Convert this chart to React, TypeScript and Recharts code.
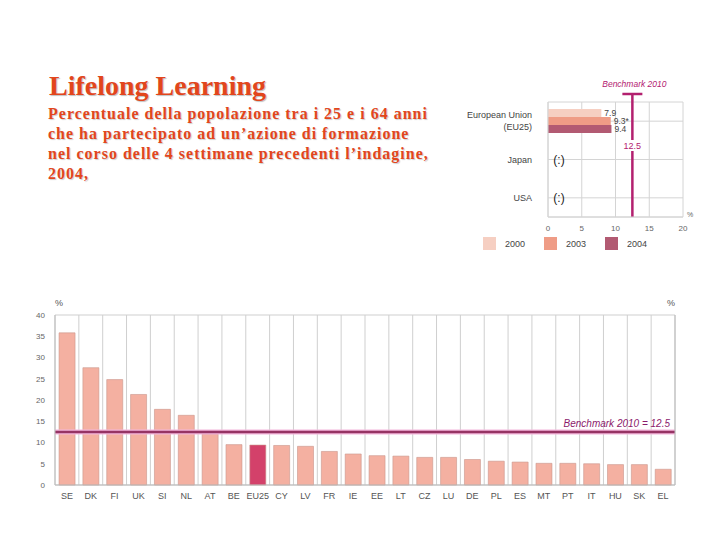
import {
  Bar,
  BarChart,
  CartesianGrid,
  Cell,
  LabelList,
  Legend,
  ReferenceLine,
  XAxis,
  YAxis,
} from "recharts";

// main chart: participation in lifelong learning, 2004 (%)
const countries = [
  "SE", "DK", "FI", "UK", "SI", "NL", "AT", "BE", "EU25", "CY", "LV", "FR", "IE",
  "EE", "LT", "CZ", "LU", "DE", "PL", "ES", "MT", "PT", "IT", "HU", "SK", "EL",
];
const share2004 = [
  35.8, 27.6, 24.8, 21.3, 17.8, 16.4, 12.0, 9.5, 9.4, 9.3, 9.1, 7.9, 7.3,
  6.9, 6.8, 6.5, 6.5, 6.0, 5.6, 5.4, 5.1, 5.1, 5.0, 4.8, 4.8, 3.7,
];
const mainTicks = [0, 5, 10, 15, 20, 25, 30, 35, 40];
const benchmark = 12.5;

// inset: EU25 vs Japan / USA
const regions = ["European Union (EU25)", "Japan", "USA"];
const regionNotes = ["", "(:)", "(:)"];
const eu2000 = [7.9, null, null];
const eu2003 = [9.3, null, null];
const eu2004 = [9.4, null, null];
const insetTicks = [0, 5, 10, 15, 20];

const mainData = countries.map((c, i) => ({ country: c, value: share2004[i] }));
const insetData = regions.map((r, i) => ({
  region: r,
  y2000: eu2000[i],
  y2003: eu2003[i],
  y2004: eu2004[i],
}));

const insetSeries = [
  { key: "y2000", name: "2000", color: "#f6cfc2", suffix: "" },
  { key: "y2003", name: "2003", color: "#ef9c86", suffix: "*" },
  { key: "y2004", name: "2004", color: "#b25a72", suffix: "" },
];

const sans = "'Liberation Sans', Arial, sans-serif";
const serif = "'Liberation Serif', 'Times New Roman', serif";
const titleColor = "#e2461c";

const RegionTick = ({ x, y, payload, index }: any) => {
  const label: string = payload.value;
  const parts = label.includes(" (") ? label.split(" (") : [label];
  const note = regionNotes[index];
  return (
    <g>
      {parts.length > 1 ? (
        <text x={x} y={y} textAnchor="end" fontSize={9} fill="#444" fontFamily={sans}>
          <tspan x={x} dy={-3}>{parts[0]}</tspan>
          <tspan x={x} dy={12}>{"(" + parts[1]}</tspan>
        </text>
      ) : (
        <text x={x} y={y} dy={3} textAnchor="end" fontSize={9} fill="#444" fontFamily={sans}>
          {label}
        </text>
      )}
      {note && (
        <text x={x + 27} y={y} dy={4} textAnchor="middle" fontSize={12} fill="#222" fontFamily={sans}>
          {note}
        </text>
      )}
    </g>
  );
};

const BenchmarkShape = (props: any) => {
  const { x1, y1, x2, y2 } = props;
  const top = Math.min(y1, y2);
  const bottom = Math.max(y1, y2);
  return (
    <g>
      <line x1={x1} y1={top - 8} x2={x2} y2={bottom} stroke="#b3206f" strokeWidth={2.5} />
      <line x1={x1 - 10} y1={top - 8} x2={x1 + 10} y2={top - 8} stroke="#b3206f" strokeWidth={2.5} />
    </g>
  );
};

const InsetBenchLabel = ({ viewBox }: any) => {
  const { x, y } = viewBox;
  return (
    <g fontFamily={sans}>
      <text x={x + 2} y={y - 15} textAnchor="middle" fontSize={8.5} fontStyle="italic" fill="#b3206f">
        Benchmark 2010
      </text>
      <rect x={x - 10} y={y + 38} width={20} height={11} fill="#fff" />
      <text x={x} y={y + 47} textAnchor="middle" fontSize={9} fill="#b3206f">
        12.5
      </text>
    </g>
  );
};

const InsetLegend = ({ payload }: any) => (
  <div style={{ display: "flex", fontFamily: sans, fontSize: 9, color: "#444" }}>
    {(payload || []).map((p: any) => (
      <div key={p.value} style={{ display: "flex", alignItems: "center", width: 61 }}>
        <span style={{ width: 13, height: 13, background: p.color, display: "inline-block", marginRight: 9 }} />
        {p.value}
      </div>
    ))}
  </div>
);

const PercentLabel = (side: "left" | "right") => ({ viewBox }: any) => {
  const { x, y, width } = viewBox;
  const tx = side === "left" ? x + width + 4 : x - 4;
  return (
    <text x={tx} y={y - 9} textAnchor="middle" fontSize={9} fill="#555" fontFamily={sans}>
      %
    </text>
  );
};

export default function App() {
  const n = countries.length;
  const bandLines = ({ offset }: any) =>
    Array.from({ length: n + 1 }, (_, i) => offset.left + (i * offset.width) / n);

  return (
    <div style={{ position: "absolute", left: 0, top: 0, width: 720, height: 540, background: "#fff" }}>
      <div
        style={{
          position: "absolute",
          left: 49,
          top: 72,
          fontFamily: serif,
          fontWeight: "bold",
          fontSize: 28,
          lineHeight: "28px",
          color: titleColor,
          textShadow: "1px 1px 1px rgba(0,0,0,0.25)",
          whiteSpace: "nowrap",
        }}
      >
        Lifelong Learning
      </div>
      <div
        style={{
          position: "absolute",
          left: 48,
          top: 104,
          width: 420,
          fontFamily: serif,
          fontWeight: "bold",
          fontSize: 16,
          letterSpacing: 1,
          lineHeight: "20px",
          color: titleColor,
          textShadow: "1px 1px 1px rgba(0,0,0,0.2)",
          whiteSpace: "nowrap",
        }}
      >
        Percentuale della popolazione tra i 25 e i 64 anni
        <br />
        che ha partecipato ad un’azione di formazione
        <br />
        nel corso delle 4 settimane precedenti l’indagine,
        <br />
        2004,
      </div>

      <div style={{ position: "absolute", left: 450, top: 70 }}>
        <BarChart
          width={260}
          height={195}
          data={insetData}
          layout="vertical"
          margin={{ top: 32, right: 27, bottom: 6, left: 0 }}
          barCategoryGap="18%"
          barGap={0}
        >
          <CartesianGrid stroke="#d4d4d4" />
          <XAxis
            type="number"
            domain={[0, 20]}
            ticks={insetTicks}
            tickLine={false}
            axisLine={{ stroke: "#d4d4d4" }}
            tick={{ fontSize: 8, fill: "#666", fontFamily: sans }}
            height={20}
          />
          <YAxis
            type="category"
            dataKey="region"
            width={98}
            tickLine={false}
            axisLine={{ stroke: "#d4d4d4" }}
            tickMargin={10}
            tick={<RegionTick />}
          />
          {insetSeries.map((s) => (
            <Bar key={s.key} dataKey={s.key} name={s.name} fill={s.color} isAnimationActive={false}>
              <LabelList
                dataKey={s.key}
                position="right"
                offset={3}
                fontSize={8.5}
                fill="#444"
                fontFamily={sans}
                formatter={(v: any) => (v == null ? "" : v + s.suffix)}
              />
            </Bar>
          ))}
          <ReferenceLine x={benchmark} shape={<BenchmarkShape />} label={<InsetBenchLabel />} />
          <Legend
            verticalAlign="bottom"
            height={22}
            content={<InsetLegend />}
            wrapperStyle={{ left: 33, width: 200 }}
          />
        </BarChart>
        <div style={{ position: "absolute", left: 237, top: 141, fontSize: 7, color: "#666", fontFamily: sans }}>%</div>
      </div>

      <div style={{ position: "absolute", left: 0, top: 290 }}>
        <BarChart
          width={720}
          height={215}
          data={mainData}
          margin={{ top: 25, right: 0, bottom: 0, left: 0 }}
          barCategoryGap="17%"
        >
          <CartesianGrid stroke="#cfcfcf" verticalCoordinatesGenerator={bandLines} />
          <XAxis
            dataKey="country"
            interval={0}
            tickLine={false}
            axisLine={{ stroke: "#bbb" }}
            tick={{ fontSize: 9, fill: "#555", fontFamily: sans }}
            height={20}
          />
          <YAxis
            yAxisId="left"
            domain={[0, 40]}
            ticks={mainTicks}
            width={55}
            tickLine={false}
            tickMargin={4}
            axisLine={{ stroke: "#bbb" }}
            tick={{ fontSize: 8, fill: "#666", fontFamily: sans }}
            label={PercentLabel("left")}
          />
          <YAxis
            yAxisId="right"
            orientation="right"
            domain={[0, 40]}
            ticks={mainTicks}
            width={45}
            tickLine={false}
            tickMargin={5}
            axisLine={{ stroke: "#bbb" }}
            tick={{ fontSize: 8, fill: "#666", fontFamily: sans }}
            label={PercentLabel("right")}
          />
          <Bar yAxisId="left" dataKey="value" stroke="#c9958c" strokeWidth={0.6} isAnimationActive={false}>
            {mainData.map((d) => (
              <Cell key={d.country} fill={d.country === "EU25" ? "#d3416a" : "#f4b0a1"} />
            ))}
          </Bar>
          <ReferenceLine yAxisId="left" y={benchmark} stroke="#f4b6dc" strokeWidth={5} />
          <ReferenceLine
            yAxisId="left"
            y={benchmark}
            stroke="#963464"
            strokeWidth={2.5}
            label={{
              value: "Benchmark 2010 = 12.5",
              position: "insideBottomRight",
              offset: 5,
              fontSize: 10,
              fontStyle: "italic",
              fill: "#8c1a6c",
              fontFamily: sans,
            }}
          />
        </BarChart>
      </div>
    </div>
  );
}
